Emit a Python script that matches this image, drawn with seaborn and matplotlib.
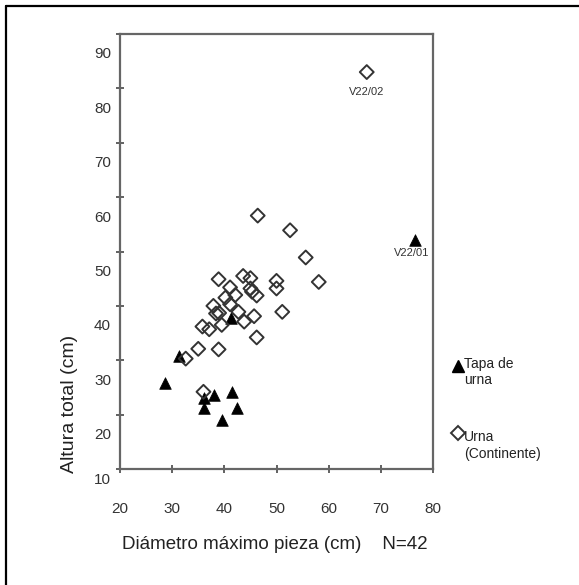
import matplotlib
matplotlib.use("Agg")
import matplotlib.pyplot as plt
import matplotlib.transforms as mtransforms
from matplotlib.lines import Line2D
import seaborn as sns
import pandas as pd

# Tapa de urna (filled triangles)
tapa_diam = [28.6, 31.3, 36.1, 36.1, 38.1, 41.4, 42.5, 39.5, 41.2, 76.5]
tapa_alt = [25.9, 30.8, 23.1, 21.3, 23.6, 24.1, 21.3, 19.1, 37.7, 52.2]

# Urna (Continente) (hollow diamonds)
urna_diam = [67.3, 46.4, 52.6, 55.6, 58.1, 38.9, 43.6, 45.0, 41.1, 42.1,
             45.0, 45.3, 46.2, 50.0, 50.0, 37.9, 41.1, 39.0, 42.7, 35.8,
             37.1, 39.5, 43.8, 45.7, 51.1, 46.2, 35.0, 38.9, 32.6, 36.0,
             38.4, 40.2]
urna_alt = [83.0, 56.6, 53.9, 48.9, 44.4, 44.9, 45.5, 45.1, 43.4, 42.0,
            43.2, 42.6, 41.9, 44.6, 43.2, 40.0, 40.3, 38.7, 38.9, 36.2,
            35.7, 36.5, 37.1, 38.1, 38.9, 34.2, 32.1, 32.0, 30.3, 24.2,
            38.6, 41.5]

x_ticks = [20, 30, 40, 50, 60, 70, 80]
y_ticks = [10, 20, 30, 40, 50, 60, 70, 80, 90]

tapa = pd.DataFrame({"diam": tapa_diam, "alt": tapa_alt})
urna = pd.DataFrame({"diam": urna_diam, "alt": urna_alt})

sns.set_theme(style="white")
plt.rcParams["font.family"] = ["Liberation Sans", "DejaVu Sans"]

fig = plt.figure(figsize=(5.79, 5.85), dpi=100)
ax = fig.add_axes([120 / 579, 1 - 469 / 585, 313 / 579, 435 / 585])

sns.scatterplot(data=tapa, x="diam", y="alt", marker="^", s=70,
                color="black", edgecolor="black", linewidth=0.5, ax=ax,
                zorder=3)
sns.scatterplot(data=urna, x="diam", y="alt", marker="D", s=50,
                facecolor="none", edgecolor="#333333", linewidth=1.4, ax=ax,
                zorder=4)

ax.set_xlim(20, 80)
ax.set_ylim(10, 90)
ax.set_xticks(x_ticks)
ax.set_yticks(y_ticks)
ax.tick_params(axis="both", direction="inout", length=6, width=1.3,
               color="#555555", labelsize=11, labelcolor="#333333",
               bottom=True, left=True)
ax.tick_params(axis="x", pad=21)
ax.tick_params(axis="y", pad=3.5)
for sp in ax.spines.values():
    sp.set_color("#666666")
    sp.set_linewidth(1.6)

# labels on the y axis sit a little below their ticks, as in the source
for lab, val in zip(ax.get_yticklabels(), y_ticks):
    dy = -0.10 if val == 10 else -0.19
    lab.set_transform(lab.get_transform() +
                      mtransforms.ScaledTranslation(0, dy, fig.dpi_scale_trans))

ax.set_xlabel("Diámetro máximo pieza (cm)    N=42", fontsize=13.5,
              color="#222222")
ax.xaxis.set_label_coords(0.495, -0.153)
ax.set_ylabel("Altura total (cm)", fontsize=14, color="#222222")
ax.yaxis.set_label_coords(-0.134, 0.15)

# point labels
ax.annotate("V22/02", (urna_diam[0], urna_alt[0]), xytext=(0, -14),
            textcoords="offset points", ha="center", va="center",
            fontsize=8, color="#333333")
ax.annotate("V22/01", (tapa_diam[-1], tapa_alt[-1]), xytext=(-2, -10),
            textcoords="offset points", ha="center", va="center",
            fontsize=8, color="#333333")

handles = [
    Line2D([], [], marker="^", linestyle="none", markersize=8.5,
           color="black"),
    Line2D([], [], marker="D", linestyle="none", markersize=7,
           markerfacecolor="none", markeredgecolor="#333333",
           markeredgewidth=1.4),
]
leg = ax.legend(handles, ["Tapa de\nurna", "Urna\n(Continente)"],
                loc="upper left", bbox_to_anchor=(1.045, 0.27),
                frameon=False, fontsize=10, handlelength=0.8,
                handletextpad=0.0, labelspacing=3.1, borderaxespad=0)
for t in leg.get_texts():
    t.set_color("#222222")
# markers sit level with the first text line
for h, up in zip(leg.legend_handles, [0.07, 0.13]):
    h.set_transform(h.get_transform() +
                    mtransforms.ScaledTranslation(0, up, fig.dpi_scale_trans))

# outer frame (left and top edges visible in the source crop)
fig.add_artist(Line2D([6 / 579, 6 / 579], [0, 1 - 6 / 585],
                      transform=fig.transFigure, color="black", lw=1.6))
fig.add_artist(Line2D([6 / 579, 1], [1 - 6 / 585, 1 - 6 / 585],
                      transform=fig.transFigure, color="black", lw=1.6))

fig.savefig("out.png", dpi=100)
